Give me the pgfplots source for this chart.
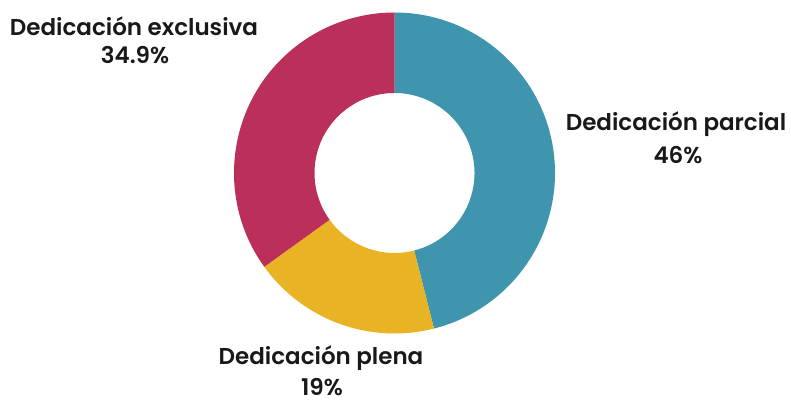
\documentclass[border=0pt]{standalone}
\usepackage{pgfplots}
\pgfplotsset{compat=1.18}
\usepackage{pgfplotstable}
\usetikzlibrary{calc}
\usepackage{fontspec}
\setmainfont{Poppins}
\newfontfamily\labfont{Poppins SemiBold}

\definecolor{parcialc}{RGB}{64,149,174}
\definecolor{plenac}{RGB}{232,179,36}
\definecolor{exclc}{RGB}{186,48,91}

% porcentajes por tipo de dedicacion
\pgfplotstableread{
tipo value
parcial 46
plena 19
exclusiva 34.9
}\datatable

\pgfplotstablegetelem{0}{value}\of\datatable \let\vA\pgfplotsretval
\pgfplotstablegetelem{1}{value}\of\datatable \let\vB\pgfplotsretval
\pgfplotstablegetelem{2}{value}\of\datatable \let\vC\pgfplotsretval
\pgfmathsetmacro\tot{\vA+\vB+\vC}
\pgfmathsetmacro\aA{90-\vA/\tot*360}
\pgfmathsetmacro\aB{\aA-\vB/\tot*360}
\def\aC{-270}

\def\cx{394.5}
\def\cy{228}
\def\Ro{160.5}
\def\Ri{80}

\newcommand\donutwedge[3]{% start, end, colour
  \fill[#3] ($(axis cs:\cx,\cy)+(#1:\Ro)$) arc[start angle=#1, end angle=#2, radius=\Ro]
    -- ($(axis cs:\cx,\cy)+(#2:\Ri)$) arc[start angle=#2, end angle=#1, radius=\Ri] -- cycle;}

\tikzset{lab/.style={font=\labfont\fontsize{23}{27}\selectfont, text=black!90, anchor=base, inner sep=0pt}}
\pgfkeys{/pgf/number format/assume math mode=true}

\begin{document}
\begin{tikzpicture}
\begin{axis}[
    x=1pt, y=1pt,
    xmin=0, xmax=791, ymin=0, ymax=401,
    scale only axis,
    hide axis,
    clip=false,
]
\path (axis cs:0,0) rectangle (axis cs:791,401);
\donutwedge{90}{\aA}{parcialc}
\donutwedge{\aA}{\aB}{plenac}
\donutwedge{\aB}{\aC}{exclc}

\node[lab] at (axis cs:676,270) {Dedicación parcial};
\node[lab] at (axis cs:678,237) {\pgfmathprintnumber{\vA}\%};
\node[lab] at (axis cs:321,36) {Dedicación plena};
\node[lab] at (axis cs:322,6) {\pgfmathprintnumber{\vB}\%};
\node[lab] at (axis cs:134,365) {Dedicación exclusiva};
\node[lab] at (axis cs:135,337) {\pgfmathprintnumber[fixed,precision=1]{\vC}\%};
\end{axis}
\end{tikzpicture}
\end{document}
